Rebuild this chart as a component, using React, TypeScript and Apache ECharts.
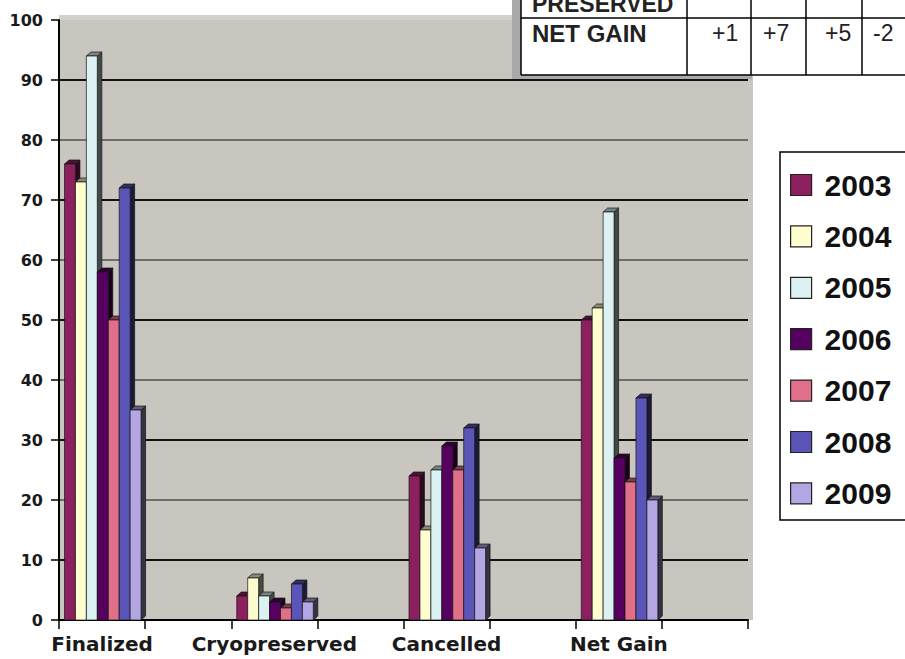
import React, { useEffect, useRef } from "react";
import * as echarts from "echarts";

const categories = ["Finalized", "Cryopreserved", "Cancelled", "Net Gain"];
const years = ["2003", "2004", "2005", "2006", "2007", "2008", "2009"];
const s2003 = [76, 4, 24, 50];
const s2004 = [73, 7, 15, 52];
const s2005 = [94, 4, 25, 68];
const s2006 = [58, 3, 29, 27];
const s2007 = [50, 2, 25, 23];
const s2008 = [72, 6, 32, 37];
const s2009 = [35, 3, 12, 20];
const seriesValues = [s2003, s2004, s2005, s2006, s2007, s2008, s2009];
const colors = ["#8c1f5e", "#fdfdcf", "#dcf2f2", "#560060", "#e0708a", "#5b55b8", "#b4a6e2"];

const tableRowLabels = ["PRESERVED", "NET GAIN"];
const netGainRow = ["+1", "+7", "+5", "-2"];

function shade(hex: string, f: number): string {
  const n = parseInt(hex.slice(1), 16);
  const r = Math.round(((n >> 16) & 255) * (1 - f));
  const g = Math.round(((n >> 8) & 255) * (1 - f));
  const b = Math.round((n & 255) * (1 - f));
  return `rgb(${r},${g},${b})`;
}

export default function App() {
  const ref = useRef<HTMLDivElement>(null);
  useEffect(() => {
    if (!ref.current) return;
    const chart = echarts.init(ref.current, undefined, { renderer: "svg" });
    const slots = categories.flatMap((c) => [c, ""]);
    const dx = 4.5;
    const dy = 4;

    const series = years.map((y, s) => ({
      type: "custom",
      name: y,
      itemStyle: { color: colors[s] },
      data: seriesValues[s].map((v, i) => [i * 2, v]),
      renderItem: (params: any, api: any) => {
        const cat = api.value(0);
        const val = api.value(1);
        const base = api.coord([cat, 0]);
        const top = api.coord([cat, val]);
        const slotW = api.size([1, 0])[0];
        const w = slotW * 0.127;
        const x0 = base[0] - slotW / 2 + slotW * 0.064 + s * w;
        const yT = top[1];
        const yB = base[1];
        const c = colors[s];
        const stroke = { stroke: "#151515", lineWidth: 0.7 };
        return {
          type: "group",
          children: [
            {
              type: "polygon",
              shape: { points: [[x0 + w, yT], [x0 + w + dx, yT - dy], [x0 + w + dx, yB - dy], [x0 + w, yB]] },
              style: { fill: shade(c, 0.7), ...stroke },
            },
            {
              type: "polygon",
              shape: { points: [[x0, yT], [x0 + dx, yT - dy], [x0 + w + dx, yT - dy], [x0 + w, yT]] },
              style: { fill: shade(c, 0.45), ...stroke },
            },
            {
              type: "rect",
              shape: { x: x0, y: yT, width: w, height: yB - yT },
              style: { fill: c, ...stroke },
            },
          ],
        };
      },
    }));

    const splitColors = Array.from({ length: 11 }, (_, i) =>
      i === 10 ? "rgba(0,0,0,0)" : i % 2 === 1 ? "#111111" : "#6e6e6e"
    );

    const tableX = [521, 687, 751, 806, 862];
    const numX = [712, 763, 825, 873];

    const graphic: any[] = [
      { type: "rect", z: 0, silent: true, shape: { x: 753 - 5, y: 16, width: 5, height: 604 }, style: { fill: "#c8c6be" } },
      { type: "rect", z: 0, silent: true, shape: { x: 59, y: 15, width: 694, height: 5 }, style: { fill: "#d2d0ca" } },
      { type: "rect", z: 20, silent: true, shape: { x: 512, y: 0, width: 240, height: 79 }, style: { fill: "#a9a9a9" } },
      { type: "rect", z: 21, silent: true, shape: { x: 521, y: 0, width: 400, height: 75 }, style: { fill: "#ffffff" } },
      { type: "line", z: 22, silent: true, shape: { x1: 521, y1: 18, x2: 905, y2: 18 }, style: { stroke: "#000", lineWidth: 1.5 } },
      { type: "line", z: 22, silent: true, shape: { x1: 521, y1: 75, x2: 905, y2: 75 }, style: { stroke: "#000", lineWidth: 1.5 } },
      ...tableX.map((x) => ({
        type: "line", z: 22, silent: true,
        shape: { x1: x, y1: 0, x2: x, y2: 75 },
        style: { stroke: "#000", lineWidth: 1.5 },
      })),
      {
        type: "text", z: 23, silent: true, x: 532, y: 4,
        style: { text: tableRowLabels[0], fontFamily: "Liberation Sans", fontWeight: "bold", fontSize: 23, fill: "#222", verticalAlign: "middle" },
      },
      {
        type: "text", z: 23, silent: true, x: 532, y: 33,
        style: { text: tableRowLabels[1], fontFamily: "Liberation Sans", fontWeight: "bold", fontSize: 24, fill: "#222", verticalAlign: "middle" },
      },
      ...netGainRow.map((t, i) => ({
        type: "text", z: 23, silent: true, x: numX[i], y: 33,
        style: { text: t, fontFamily: "Liberation Sans", fontSize: 23, fill: "#222", verticalAlign: "middle" },
      })),
      { type: "rect", z: 1, silent: true, shape: { x: 780, y: 152, width: 160, height: 368 }, style: { fill: "#ffffff", stroke: "#000", lineWidth: 1.5 } },
    ];

    chart.setOption({
      animation: false,
      backgroundColor: "#ffffff",
      grid: {
        left: 59,
        right: 157,
        top: 20,
        bottom: 39,
        show: true,
        backgroundColor: "#c8c6be",
        borderWidth: 0,
      },
      xAxis: {
        type: "category",
        data: slots,
        axisLine: { show: true, lineStyle: { color: "#000", width: 2 } },
        axisTick: { show: true, interval: 0, length: 9, lineStyle: { color: "#000", width: 1.5 } },
        axisLabel: {
          interval: 0,
          margin: 14,
          fontFamily: "DejaVu Sans",
          fontWeight: "bold",
          fontSize: 20,
          color: "#1a1a1a",
        },
        splitLine: { show: false },
      },
      yAxis: {
        type: "value",
        min: 0,
        max: 100,
        interval: 10,
        axisLine: { show: true, lineStyle: { color: "#000", width: 2 } },
        axisTick: { show: true, length: 8, lineStyle: { color: "#000", width: 1.5 } },
        axisLabel: {
          margin: 16,
          fontFamily: "DejaVu Sans",
          fontWeight: "bold",
          fontSize: 16,
          color: "#1a1a1a",
        },
        splitLine: { show: true, lineStyle: { color: splitColors, width: 2 } },
      },
      legend: {
        orient: "vertical",
        left: 790,
        top: 170,
        padding: 0,
        itemWidth: 21,
        itemHeight: 21,
        itemGap: 21.4,
        icon: "rect",
        data: years.map((y, i) => ({
          name: y,
          itemStyle: { color: colors[i], borderColor: "#222", borderWidth: 1.2 },
        })),
        textStyle: {
          fontFamily: "Liberation Sans",
          fontWeight: "bold",
          fontSize: 30,
          color: "#111",
          padding: [0, 0, 0, 8],
        },
      },
      graphic,
      series,
    } as any);
    return () => chart.dispose();
  }, []);
  return (
    <div
      ref={ref}
      style={{ position: "absolute", left: 0, top: 0, width: 905, height: 659, background: "#fff" }}
    />
  );
}
